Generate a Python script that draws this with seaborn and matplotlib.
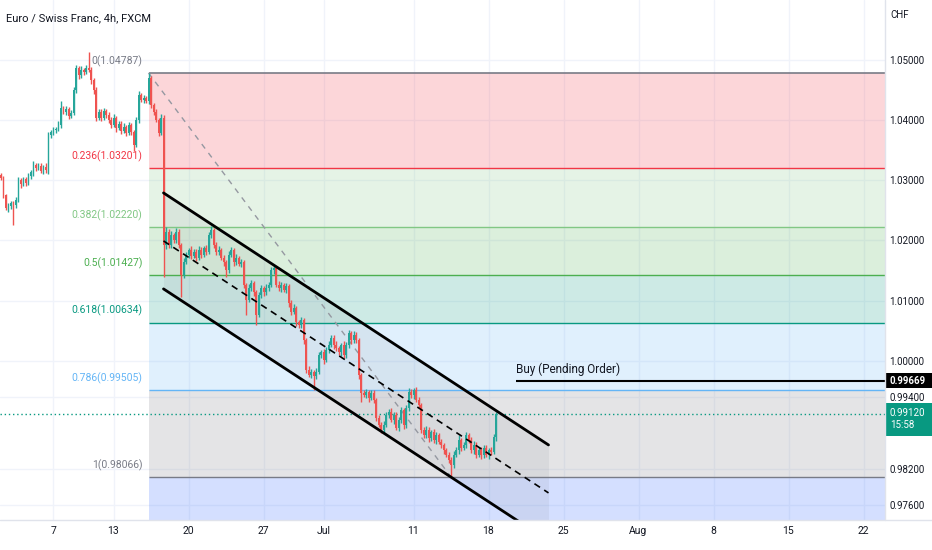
import matplotlib.pyplot as plt
import matplotlib.transforms as mtransforms
from matplotlib.lines import Line2D
from matplotlib.patches import Rectangle
import numpy as np
import pandas as pd
import seaborn as sns

W, H = 932, 550

# EUR/CHF 4h candles, first bar sits 21 bars before Jun 7 00:00 (weekdays only)
first_bar = -21
first_open = 1.0309
closes = [
    1.0304, 1.0276, 1.0254, 1.0257, 1.0262, 1.0259, 1.0267, 1.0301, 1.0294, 1.0302,
    1.0296, 1.0307, 1.0314, 1.0326, 1.0321, 1.0324, 1.0316, 1.0322, 1.0317, 1.0375,
    1.0380, 1.0384, 1.0385, 1.0392, 1.0420, 1.0414, 1.0419, 1.0407, 1.0412, 1.0450,
    1.0487, 1.0475, 1.0484, 1.0480, 1.0487, 1.0484, 1.0467, 1.0450, 1.0404, 1.0414,
    1.0404, 1.0415, 1.0409, 1.0400, 1.0392, 1.0404, 1.0387, 1.0394, 1.0382, 1.0389,
    1.0379, 1.0392, 1.0380, 1.0359, 1.0400, 1.0442, 1.0434, 1.0437, 1.0432, 1.0470,
    1.0425, 1.0414, 1.0400, 1.0379, 1.0404, 1.0192, 1.0214, 1.0192, 1.0209, 1.0201,
    1.0214, 1.0192, 1.0142, 1.0164, 1.0176, 1.0184, 1.0174, 1.0181, 1.0171, 1.0184,
    1.0176, 1.0187, 1.0181, 1.0209, 1.0217, 1.0192, 1.0181, 1.0184, 1.0171, 1.0164,
    1.0151, 1.0176, 1.0184, 1.0164, 1.0171, 1.0161, 1.0164, 1.0126, 1.0101, 1.0121,
    1.0129, 1.0114, 1.0076, 1.0109, 1.0121, 1.0114, 1.0121, 1.0126, 1.0151, 1.0154,
    1.0126, 1.0121, 1.0126, 1.0118, 1.0124, 1.0096, 1.0081, 1.0088, 1.0064, 1.0059,
    1.0068, 1.0034, 0.9985, 0.9976, 0.9981, 0.9975, 0.9981, 1.0009, 1.0014, 1.0001,
    1.0018, 1.0026, 1.0038, 1.0026, 1.0021, 1.0014, 1.0026, 1.0009, 1.0026, 1.0046,
    1.0034, 1.0043, 1.0034, 0.9976, 0.9946, 0.9943, 0.9948, 0.9938, 0.9946, 0.9935,
    0.9905, 0.9893, 0.9885, 0.9893, 0.9910, 0.9915, 0.9901, 0.9910, 0.9888, 0.9901,
    0.9918, 0.9893, 0.9921, 0.9948, 0.9943, 0.9951, 0.9935, 0.9926, 0.9885, 0.9876,
    0.9885, 0.9871, 0.9881, 0.9868, 0.9876, 0.9865, 0.9860, 0.9851, 0.9843, 0.9835,
    0.9826, 0.9843, 0.9851, 0.9868, 0.9855, 0.9860, 0.9876, 0.9868, 0.9851, 0.9860,
    0.9843, 0.9851, 0.9843, 0.9855, 0.9843, 0.9851, 0.9848, 0.9873, 0.9912,
]
# wick lengths in pips
upper_wicks = [
    4, 3, 2, 5, 4, 3, 6, 5, 3, 4, 3, 5, 4, 6, 3, 4, 5, 3, 6, 5,
    4, 5, 3, 6, 12, 4, 5, 3, 5, 6, 5, 4, 6, 3, 5, 27, 4, 3, 6, 5,
    4, 6, 3, 4, 5, 6, 3, 5, 4, 6, 3, 5, 4, 3, 5, 6, 4, 5, 3, 8.7,
    4, 3, 5, 4, 6, 5, 8, 5, 6, 4, 7, 5, 4, 6, 5, 4, 6, 5, 4, 6,
    5, 4, 6, 5, 7, 4, 5, 6, 4, 5, 3, 6, 5, 4, 6, 3, 5, 4, 3, 6,
    5, 4, 3, 6, 5, 4, 6, 5, 4, 5, 4, 6, 5, 3, 6, 4, 5, 6, 3, 4,
    5, 3, 4, 6, 5, 4, 6, 5, 4, 6, 5, 7, 4, 5, 6, 4, 3, 6, 5, 5,
    4, 6, 5, 3, 4, 6, 5, 4, 6, 5, 3, 4, 5, 6, 4, 5, 6, 4, 5, 6,
    5, 4, 6, 7, 5, 4, 6, 5, 3, 4, 6, 5, 4, 6, 5, 4, 5, 3, 4, 5,
    4, 6, 5, 8, 4, 5, 6, 4, 5, 6, 4, 5, 6, 4, 5, 4, 6, 5, 3,
]
lower_wicks = [
    3, 5, 4, 6, 4, 33, 5, 3, 6, 4, 5, 3, 4, 6, 5, 4, 3, 5, 4, 6,
    5, 4, 6, 3, 5, 4, 6, 5, 4, 3, 5, 6, 4, 5, 3, 4, 6, 7, 5, 4,
    5, 3, 6, 4, 5, 3, 6, 4, 5, 3, 6, 4, 5, 10, 4, 5, 3, 6, 4, 5,
    4, 5, 3, 6, 4, 53, 6, 5, 4, 6, 5, 4, 36, 5, 4, 6, 5, 3, 6, 4,
    5, 4, 6, 3, 5, 4, 6, 5, 4, 6, 12, 5, 4, 6, 5, 4, 6, 5, 25, 4,
    5, 6, 17, 4, 5, 6, 4, 5, 3, 6, 4, 5, 6, 4, 5, 6, 5, 4, 6, 5,
    4, 6, 5, 4, 5, 24, 6, 4, 5, 6, 4, 5, 3, 6, 5, 4, 6, 5, 4, 5,
    6, 4, 5, 6, 15, 4, 5, 6, 4, 5, 6, 4, 5, 6, 4, 5, 3, 6, 4, 5,
    4, 6, 5, 4, 5, 6, 4, 5, 6, 4, 5, 6, 4, 5, 6, 4, 5, 6, 4, 5,
    19.4, 5, 4, 6, 5, 4, 6, 5, 4, 6, 5, 4, 6, 5, 4, 6, 5, 4, 6,
]

# fib retracement drawn from the swing high to the swing low
fib_start_bar = 38
fib_end_bar = 159
fib_ratios = ["0", "0.236", "0.382", "0.5", "0.618", "0.786", "1", "1.618"]
fib_prices = [1.04787, 1.03201, 1.02220, 1.01427, 1.00634, 0.99505, 0.98066, 0.93912]
fib_colors = ["#787b86", "#f23645", "#81c784", "#4caf50", "#089981", "#64b5f6", "#787b86", "#2962ff"]

# descending parallel channel
channel_bars = [44, 198]
channel_upper = [1.02791, 0.98598]
channel_middle = [1.01992, 0.97800]
channel_lower = [1.01194, 0.97001]

pending_price = 0.99669
pending_start = 185
last_price = 0.99120
countdown = "15:58"

tick_dates = ["2022-06-07", "2022-06-13", "2022-06-20", "2022-06-27", "2022-07-01", "2022-07-11",
              "2022-07-18", "2022-07-25", "2022-08-01", "2022-08-08", "2022-08-15", "2022-08-22"]
tick_labels = ["7", "13", "20", "27", "Jul", "11", "18", "25", "Aug", "8", "15", "22"]
price_ticks = [1.05, 1.04, 1.03, 1.02, 1.01, 1.00, 0.994, 0.982, 0.976]

UP, DOWN = "#26a69a", "#ef5350"
TXT = "#131722"
PX = 1 / 6011  # price per pixel on this chart

sns.set_theme(style="white")
plt.rcParams["font.family"] = ["Roboto", "DejaVu Sans"]

closes = np.array(closes)
opens = np.r_[first_open, closes[:-1]]
highs = np.maximum(opens, closes) + np.array(upper_wicks) * 1e-4
lows = np.minimum(opens, closes) - np.array(lower_wicks) * 1e-4
bars = np.arange(first_bar, first_bar + len(closes))
colors = np.where(closes >= opens, UP, DOWN)

days = pd.bdate_range("2022-06-07", "2022-08-31")
tick_pos = [days.get_loc(pd.Timestamp(d)) * 6 for d in tick_dates]

fig = plt.figure(figsize=(W / 100, H / 100), dpi=100)
ax = fig.add_axes([0, 30 / H, 885 / W, 520 / H])
x_min, x_max = -21.4, 332.6
ax.set_xlim(x_min, x_max)
ax.set_ylim(1.06 - 520 * PX, 1.06)
ax.set_axisbelow(True)
ax.grid(True, color="#f0f3fa", lw=1)
for s in ax.spines.values():
    s.set_visible(False)

# fib zones and levels
fx = [fib_start_bar, x_max + 5]
for k in range(1, len(fib_prices)):
    ax.fill_between(fx, fib_prices[k - 1], fib_prices[k], color=fib_colors[k], alpha=0.2, lw=0, zorder=0.6)
for k, (r, p, c) in enumerate(zip(fib_ratios, fib_prices, fib_colors)):
    ax.hlines(p, fib_start_bar, x_max + 5, color=c, lw=1.2 if k == 0 else 1, zorder=1)
    if k < 7:
        ax.annotate(f"{r}({p:.5f})", (fib_start_bar, p), xytext=(-6, 12), textcoords="offset pixels",
                    ha="right", va="center", color=c, fontsize=7.5)
ax.plot([fib_start_bar, fib_end_bar], [fib_prices[0], fib_prices[6]], color="#9598a1", lw=1,
        ls=(0, (4, 4)), zorder=2)

# channel background
cx = np.array(channel_bars)
ax.fill_between(cx, channel_lower, channel_upper, color="#787b86", alpha=0.1, lw=0, zorder=0.7)

# candles
ax.vlines(bars, lows, highs, colors=colors, lw=1, zorder=3)
body = np.maximum(np.abs(closes - opens), 0.0001)
ax.bar(bars, body, bottom=np.minimum(opens, closes), width=0.75, color=colors, lw=0, zorder=3)

# channel lines
sns.lineplot(x=cx, y=channel_upper, ax=ax, color="black", lw=2, zorder=4)
sns.lineplot(x=cx, y=channel_lower, ax=ax, color="black", lw=2, zorder=4)
sns.lineplot(x=cx, y=channel_middle, ax=ax, color="black", lw=1.2, ls=(0, (4, 3)), zorder=4)

# current price and pending order
ax.axhline(last_price, color="#089981", lw=1, ls=(0, (1, 2)), zorder=2)
ax.hlines(pending_price, pending_start, x_max + 5, color="black", lw=1.5, zorder=4)
ax.annotate("Buy (Pending Order)", (pending_start, pending_price), xytext=(0, 5),
            textcoords="offset pixels", ha="left", va="bottom", color=TXT, fontsize=8.5)

# axes
ax.set_xticks(tick_pos)
ax.set_xticklabels(tick_labels)
ax.set_yticks(price_ticks)
ax.set_yticklabels([f"{p:.5f}" for p in price_ticks])
ax.yaxis.tick_right()
ax.tick_params(axis="y", length=0, pad=3, labelsize=7, colors=TXT)
ax.tick_params(axis="x", length=0, pad=4, labelsize=7.5, colors=TXT)

# price labels on the right scale
blend = mtransforms.blended_transform_factory(ax.transAxes, ax.transData)
box_w = 47 / 885
ax.add_patch(Rectangle((1, pending_price - 7.5 * PX), box_w, 15 * PX, transform=blend,
                       fc="black", ec="none", clip_on=False, zorder=5))
ax.annotate("0.99669", (1, pending_price), xycoords=blend, xytext=(5, 0), textcoords="offset pixels",
            ha="left", va="center", color="white", fontsize=7, fontweight="bold",
            annotation_clip=False, zorder=6)
ax.add_patch(Rectangle((1, last_price - 22 * PX), box_w, 33 * PX, transform=blend,
                       fc="#089981", ec="none", clip_on=False, zorder=5))
ax.annotate(f"{last_price:.5f}\n{countdown}", (1, last_price), xycoords=blend, xytext=(5, 6),
            textcoords="offset pixels", ha="left", va="top", color="white", fontsize=7,
            linespacing=1.25, annotation_clip=False, zorder=6)

fig.add_artist(Line2D([0, 1], [30 / H, 30 / H], color="#e0e3eb", lw=1))
fig.add_artist(Line2D([885 / W, 885 / W], [30 / H, 1], color="#e0e3eb", lw=1))
fig.text(6 / W, 1 - 18 / H, "Euro / Swiss Franc, 4h, FXCM", fontsize=8, color=TXT, va="center")
fig.text(890 / W, 1 - 15 / H, "CHF", fontsize=7, color=TXT, va="center")

fig.savefig("out.png", dpi=100)
